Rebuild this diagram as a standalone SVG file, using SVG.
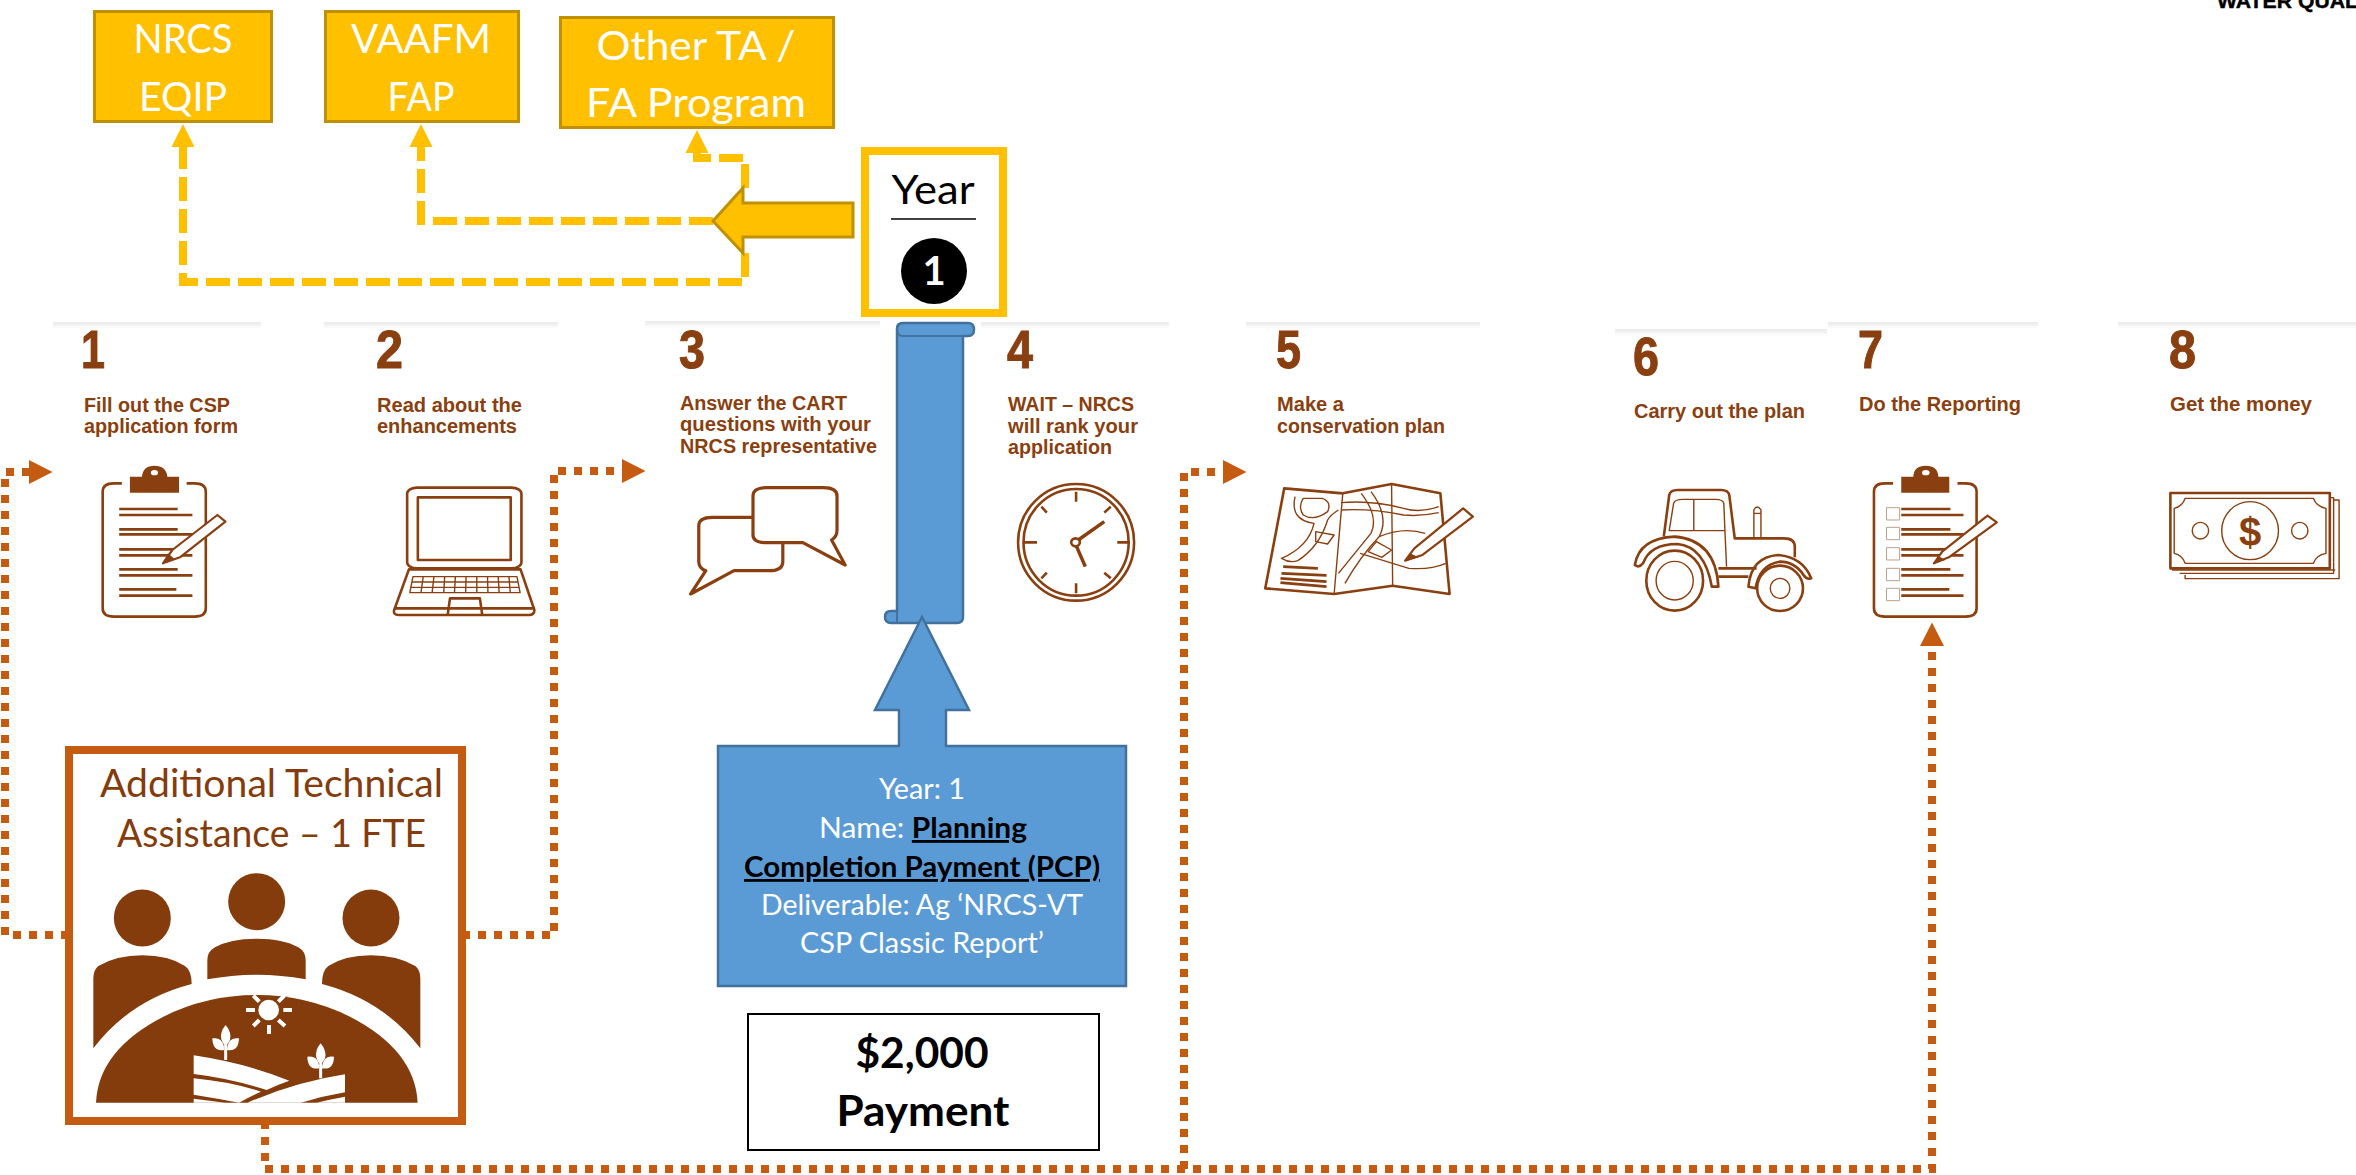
<svg xmlns="http://www.w3.org/2000/svg" xmlns:xlink="http://www.w3.org/1999/xlink" width="2356" height="1175" viewBox="0 0 2356 1175">
<style>
text{font-family:"Lato","Carlito","Open Sans",sans-serif}
.m{text-anchor:middle}
.lab{font-family:"Liberation Sans",Arial,sans-serif;font-weight:700;font-size:20px;fill:#8a3f10}
.num{font-family:"Liberation Sans",Arial,sans-serif;font-weight:700;font-size:54px;fill:#8a3f10;stroke:#8a3f10;stroke-width:1}
.y{fill:#FFC000;stroke:#BF9000;stroke-width:3}
.yt{fill:#fff;font-size:40px}
.bl{fill:#5B9BD5;stroke:#41719C;stroke-width:2.5}
.bt{fill:#fff;font-size:28px}
.bk{fill:#000;font-weight:700;text-decoration:underline}
.dy{fill:none;stroke:#FFC000;stroke-width:8;stroke-dasharray:24 8}
.do{fill:none;stroke:#C55A11;stroke-width:8;stroke-dasharray:8 8}
.i *{vector-effect:non-scaling-stroke;stroke-linejoin:round}
.o{fill:none;stroke:#8a3f10;stroke-width:2.6}
.o2{fill:none;stroke:#8a3f10;stroke-width:1.4}
.w{fill:#fff;stroke:#8a3f10;stroke-width:2.2}
.f{fill:#8a3f10}
.t{fill:#843C0C}
.h{fill:#fff}
</style>
<defs>
<linearGradient id="bar" x1="0" y1="0" x2="0" y2="1"><stop offset="0" stop-color="#e9e9e9"/><stop offset="1" stop-color="#fff"/></linearGradient>
<marker id="ay" markerUnits="userSpaceOnUse" markerWidth="23" markerHeight="24" refX="0" refY="12" orient="auto"><path d="M0 0.500L23 12L0 23.500Z" fill="#FFC000"/></marker>
<marker id="ao" markerUnits="userSpaceOnUse" markerWidth="24" markerHeight="24" refX="0" refY="12" orient="auto"><path d="M0 0L23.500 12L0 24Z" fill="#C55A11"/></marker>
<g id="plant"><path d="M557 990V945" stroke="#fff" stroke-width="9" fill="none"/><path d="M557 885Q576 908 570 930Q563 942 557 950Q548 940 544 928Q539 906 557 885ZM517 925Q551 920 553 960Q518 966 517 925ZM597 925Q563 920 561 960Q596 966 597 925Z" fill="#fff"/></g>
</defs>
<rect width="2356" height="1175" fill="#fff"/>

<g id="step-bars">
<rect x="53" y="322" width="208" height="7" fill="url(#bar)"/>
<rect x="324" y="322" width="234" height="7" fill="url(#bar)"/>
<rect x="645" y="321" width="235" height="7" fill="url(#bar)"/>
<rect x="981" y="322" width="188" height="7" fill="url(#bar)"/>
<rect x="1246" y="322" width="234" height="7" fill="url(#bar)"/>
<rect x="1615" y="329" width="212" height="7" fill="url(#bar)"/>
<rect x="1828" y="322" width="210" height="7" fill="url(#bar)"/>
<rect x="2118" y="322" width="238" height="7" fill="url(#bar)"/>
</g>

<g id="connectors">
<path class="dy" d="M745 253V282H183V147" marker-end="url(#ay)"/>
<path class="dy" d="M713 221H421V147" marker-end="url(#ay)"/>
<path class="dy" d="M745 188V158H697V153" marker-end="url(#ay)"/>
<path class="do" d="M69 935H5V472H29" marker-end="url(#ao)"/>
<path class="do" d="M462 935H554V471H622" marker-end="url(#ao)"/>
<path class="do" d="M265 1121V1169H1932V646" marker-end="url(#ao)"/>
<path class="do" d="M1184 1169V472H1223" marker-end="url(#ao)"/>
</g>

<g id="nrcs-eqip"><rect class="y" x="94.500" y="11.500" width="177" height="110"/>
<text class="yt m" x="183" y="53" textLength="99" lengthAdjust="spacingAndGlyphs">NRCS</text>
<text class="yt m" x="183" y="111" textLength="88" lengthAdjust="spacingAndGlyphs">EQIP</text></g>
<g id="vaafm-fap"><rect class="y" x="325.500" y="11.500" width="193" height="110"/>
<text class="yt m" x="421" y="53" textLength="140" lengthAdjust="spacingAndGlyphs">VAAFM</text>
<text class="yt m" x="421" y="111" textLength="67" lengthAdjust="spacingAndGlyphs">FAP</text></g>
<g id="other-ta"><rect class="y" x="560.500" y="17.500" width="273" height="110"/>
<text class="yt m" x="696" y="60" textLength="199" lengthAdjust="spacingAndGlyphs">Other TA /</text>
<text class="yt m" x="696" y="117" textLength="220" lengthAdjust="spacingAndGlyphs">FA Program</text></g>

<g id="year-arrow"><path class="y" d="M713 221L743 188V203H853V237H743V253Z"/></g>
<g id="year-box"><rect x="865" y="151" width="138" height="162" fill="#fff" stroke="#FFC000" stroke-width="8"/>
<text class="m" x="933" y="204" font-size="40" textLength="83" lengthAdjust="spacingAndGlyphs">Year</text>
<path d="M891 219H976" stroke="#000" stroke-width="1.500"/>
<circle cx="934" cy="271" r="33" fill="#000"/>
<text class="m" x="934" y="285" font-size="40" font-weight="700" fill="#fff">1</text></g>

<g id="scroll">
<path class="bl" d="M897 329Q897 323 903 323H968Q974 323 974 329.500Q974 336 968 336H963V617Q963 623 957 623H891Q885 623 885 617Q885 611 891 611H897Z"/>
<path d="M903 323Q897 323 897 329Q897 336 903 336H963M897 611V623" fill="none" stroke="#41719C" stroke-width="2"/>
</g>
<g id="payment-callout">
<path class="bl" d="M718 746H899V710H875L922 617L969 710H946V746H1126V986H718Z"/>
<text class="bt m" x="922" y="799" textLength="86" lengthAdjust="spacingAndGlyphs">Year: 1</text>
<text class="bt" x="819" y="838" textLength="208" lengthAdjust="spacingAndGlyphs">Name: <tspan class="bk">Planning</tspan></text>
<text class="bt bk m" x="922" y="877" textLength="356" lengthAdjust="spacingAndGlyphs">Completion Payment (PCP)</text>
<text class="bt m" x="922" y="915" textLength="322" lengthAdjust="spacingAndGlyphs">Deliverable: Ag ‘NRCS-VT</text>
<text class="bt m" x="922" y="953" textLength="244" lengthAdjust="spacingAndGlyphs">CSP Classic Report’</text>
</g>
<g id="payment-box"><rect x="748" y="1014" width="351" height="136" fill="#fff" stroke="#000" stroke-width="2"/>
<text class="m" x="922" y="1068" font-size="42" font-weight="700" textLength="133" lengthAdjust="spacingAndGlyphs">$2,000</text>
<text class="m" x="923" y="1126" font-size="42" font-weight="700" textLength="173" lengthAdjust="spacingAndGlyphs">Payment</text></g>

<g id="technical-assistance">
<rect x="69" y="750" width="393" height="371" fill="#fff" stroke="#C55A11" stroke-width="8"/>
<text class="t m" x="271.500" y="797" font-size="38" textLength="343" lengthAdjust="spacingAndGlyphs">Additional Technical</text>
<text class="t m" x="271.500" y="847" font-size="38" textLength="309" lengthAdjust="spacingAndGlyphs">Assistance – 1 FTE</text>
<g transform="translate(40,730) scale(.33333)">
<circle class="t" cx="307" cy="564" r="85.500"/><circle class="t" cx="650" cy="515" r="85.500"/><circle class="t" cx="993" cy="564" r="85.500"/>
<path class="t" d="M160 955V745Q160 720 175 708Q230 676 307 676Q385 676 435 708Q455 722 455 762Q270 810 160 955Z"/>
<path class="t" d="M502 748V690Q502 665 525 652Q570 626 650 626Q730 626 775 652Q797 665 797 690V748Q650 720 502 748Z"/>
<path class="t" d="M1141 955V745Q1141 720 1126 708Q1070 676 993 676Q915 676 865 708Q846 722 846 762Q1030 810 1141 955Z"/>
<path class="t" d="M168 1118Q175 960 370 860Q500 795 650 795Q800 795 930 860Q1125 960 1133 1118Z"/>
<circle class="h" cx="686" cy="840" r="31"/>
<path d="M618 840H645M730 840H756M687 885V912M640 888L658 870M735 888L715 870M640 797L658 815M733 797L715 815" stroke="#fff" stroke-width="12" fill="none"/>
<path class="h" d="M461 976Q620 1000 748 1052Q710 1065 680 1080Q570 1045 461 1032Z"/>
<path class="h" d="M461 1045Q570 1055 663 1085Q630 1100 597 1118Q530 1105 461 1094Z"/>
<path class="h" d="M461 1106Q510 1112 555 1118H461Z"/>
<path class="h" d="M915 1033Q770 1055 622 1118H783Q850 1098 915 1087Z"/>
<path class="h" d="M915 1100Q870 1108 830 1118H915Z"/>
<use xlink:href="#plant" href="#plant"/>
<use xlink:href="#plant" href="#plant" transform="translate(285,55)"/>
</g>
</g>

<g id="step-1">
<text class="num" x="81" y="368" textLength="24" lengthAdjust="spacingAndGlyphs">1</text>
<text class="lab" x="84" y="412" textLength="146" lengthAdjust="spacingAndGlyphs">Fill out the CSP</text>
<text class="lab" x="84" y="433" textLength="154" lengthAdjust="spacingAndGlyphs">application form</text>
<g class="i" transform="translate(0,320) scale(.44643,.33333)">
<path class="o" d="M273 490H255Q230 490 230 515V865Q230 890 255 890H436Q461 890 461 865V515Q461 490 436 490H418"/>
<path class="f" d="M291 518V470H318Q320 437 346 437Q372 437 375 470H401V518Z"/><ellipse class="h" cx="346" cy="458" rx="8" ry="8"/>
<path class="o" d="M267 567H398M267 585H431M267 628H398M267 643H431M267 688H398M267 706H431M267 748H398M267 766H431M267 808H395M267 827H431"/>
<path class="w" d="M386 690L487 585L505 605L403 712L365 730Z"/><path class="f" d="M376 700L392 718L365 730Z"/>
</g></g>

<g id="step-2">
<text class="num" x="376" y="368" textLength="27" lengthAdjust="spacingAndGlyphs">2</text>
<text class="lab" x="377" y="412" textLength="145" lengthAdjust="spacingAndGlyphs">Read about the</text>
<text class="lab" x="377" y="433" textLength="140" lengthAdjust="spacingAndGlyphs">enhancements</text>
<g class="i" transform="translate(0,320) scale(.44643,.33333)">
<rect class="o" x="912" y="503" width="256" height="242" rx="22" ry="18"/>
<rect class="o" x="936" y="532" width="208" height="188"/>
<path class="o" d="M916 748H1166L1197 870Q1197 885 1185 885H893Q880 885 883 870Z"/>
<path class="o" d="M883 865H1197M1003 883L1008 835H1075L1080 883"/>
<path class="o2" d="M925 770H1158L1165 818H918ZM922 786H1161M920 802H1163M948 770L943 818M972 770L968 818M996 770L994 818M1020 770L1018 818M1044 770L1043 818M1068 770L1068 818M1092 770L1093 818M1116 770L1118 818M1140 770L1143 818"/>
</g></g>

<g id="step-3">
<text class="num" x="679" y="368" textLength="26" lengthAdjust="spacingAndGlyphs">3</text>
<text class="lab" x="680" y="410" textLength="167" lengthAdjust="spacingAndGlyphs">Answer the CART</text>
<text class="lab" x="680" y="431" textLength="191" lengthAdjust="spacingAndGlyphs">questions with your</text>
<text class="lab" x="680" y="453" textLength="197" lengthAdjust="spacingAndGlyphs">NRCS representative</text>
<g class="i" transform="translate(650,320) scale(.54209,.33333)">
<path class="o" d="M215 503H320Q345 503 345 528V630Q345 650 335 660L360 735L282 668H215Q190 668 190 645V528Q190 503 215 503Z" style="stroke-width:3.200"/>
<path class="o" d="M190 592H115Q90 592 90 617V725Q90 745 103 752L75 822L155 752H220Q245 752 245 725V670" style="stroke-width:3.200"/>
</g></g>

<g id="step-4">
<text class="num" x="1007" y="368" textLength="26" lengthAdjust="spacingAndGlyphs">4</text>
<text class="lab" x="1008" y="411" textLength="126" lengthAdjust="spacingAndGlyphs">WAIT – NRCS</text>
<text class="lab" x="1008" y="433" textLength="130" lengthAdjust="spacingAndGlyphs">will rank your</text>
<text class="lab" x="1008" y="454" textLength="104" lengthAdjust="spacingAndGlyphs">application</text>
<g class="i" transform="translate(650,320) scale(.54209,.33333)">
<ellipse class="o" cx="786" cy="667" rx="107" ry="175"/><ellipse class="o" cx="786" cy="667" rx="97" ry="160"/>
<path class="o" d="M786 515V545M786 790V820M862 667H885M690 667H714M850 560L838 578M722 560L732 578M850 775L838 758M722 775L732 758"/>
<path class="o" d="M790 660L838 605M787 680L803 740" style="stroke-width:3.500"/>
<ellipse class="o" cx="785" cy="667" rx="8" ry="12"/>
</g></g>

<g id="step-5">
<text class="num" x="1276" y="368" textLength="25" lengthAdjust="spacingAndGlyphs">5</text>
<text class="lab" x="1277" y="411" textLength="67" lengthAdjust="spacingAndGlyphs">Make a</text>
<text class="lab" x="1277" y="433" textLength="168" lengthAdjust="spacingAndGlyphs">conservation plan</text>
<g class="i" transform="translate(650,320) scale(.54209,.33333)">
<path class="o" d="M1170 505L1278 520L1368 492L1458 520L1475 822L1370 797L1262 822L1135 805Z"/>
<path class="o2" d="M1278 520L1262 822M1368 492L1370 797"/>
<path class="o2" d="M1190 530Q1180 600 1225 610Q1215 680 1165 715Q1180 730 1195 722Q1235 680 1250 600Q1255 585 1270 570M1205 535H1240Q1258 545 1250 575Q1225 605 1205 585Q1195 560 1205 535ZM1228 635L1262 645L1250 672L1228 665Z"/>
<path class="o2" d="M1275 548Q1330 540 1390 565Q1420 580 1455 560M1275 570Q1330 565 1390 585Q1420 590 1455 578M1312 520Q1345 590 1330 640Q1300 700 1270 760M1330 515Q1365 590 1345 650Q1310 710 1282 790"/>
<path class="o2" d="M1345 650Q1390 620 1430 640M1340 665L1368 690L1350 712L1325 695ZM1310 700Q1370 730 1400 745Q1440 750 1468 730"/>
<path class="o" d="M1168 740L1232 745M1165 760L1248 766M1163 775L1248 785M1163 788L1248 800"/>
<path class="w" d="M1410 685L1500 565L1518 590L1425 705L1393 722Z"/><path class="f" d="M1402 700L1418 712L1393 722Z"/>
</g></g>

<g id="step-6">
<text class="num" x="1633" y="375" textLength="26" lengthAdjust="spacingAndGlyphs">6</text>
<text class="lab" x="1634" y="418" textLength="171" lengthAdjust="spacingAndGlyphs">Carry out the plan</text>
<g class="i" transform="translate(1500,320) scale(.54592,.33333)">
<path class="o" d="M300 650L310 525Q312 510 325 510H405Q418 510 420 525L430 655H520Q540 655 540 680V712"/>
<path class="o2" d="M310 632L318 550Q320 538 335 538H395Q408 538 410 550L412 632ZM355 538V632M412 632L415 740"/>
<path class="o2" d="M465 652V570Q471 552 478 570V652M465 580H478"/>
<ellipse class="o" cx="320" cy="782" rx="52" ry="90"/><ellipse class="o2" cx="320" cy="782" rx="34" ry="58"/>
<ellipse class="o" cx="513" cy="805" rx="42" ry="68"/><ellipse class="o2" cx="513" cy="805" rx="18" ry="30"/>
<path class="o" d="M400 800Q395 660 320 650Q255 655 247 735Q255 745 262 730Q275 672 325 672Q375 680 388 800Z"/>
<path class="o" d="M455 800Q460 710 510 705Q555 712 570 775Q562 780 556 765Q540 725 512 725Q475 735 468 805Z"/>
<path class="o" d="M400 745H470M400 770H455"/>
</g></g>

<g id="step-7">
<text class="num" x="1858" y="368" textLength="25" lengthAdjust="spacingAndGlyphs">7</text>
<text class="lab" x="1859" y="411" textLength="162" lengthAdjust="spacingAndGlyphs">Do the Reporting</text>
<g class="i" transform="translate(1500,320) scale(.54592,.33333)">
<path class="o" d="M720 490H705Q685 490 685 515V865Q685 890 705 890H853Q873 890 873 865V515Q873 490 853 490H838"/>
<path class="f" d="M735 518V470H757Q758 437 780 437Q802 437 803 470H823V518Z"/><ellipse class="h" cx="780" cy="458" rx="7" ry="8"/>
<path class="o" d="M735 567H825M735 585H849M735 628H825M735 643H849M735 688H825M735 706H849M735 748H825M735 766H849M735 808H823M735 827H849"/>
<g fill="#fff" stroke="#bda08e" stroke-width="1"><rect x="708" y="563" width="24" height="37"/><rect x="708" y="622" width="24" height="37"/><rect x="708" y="683" width="24" height="37"/><rect x="708" y="745" width="24" height="37"/><rect x="708" y="805" width="24" height="37"/></g>
<path class="w" d="M810 695L893 587L910 607L822 712L795 730Z"/><path class="f" d="M803 708L816 720L795 730Z"/>
</g></g>

<g id="step-8">
<text class="num" x="2169" y="368" textLength="27" lengthAdjust="spacingAndGlyphs">8</text>
<text class="lab" x="2170" y="411" textLength="142" lengthAdjust="spacingAndGlyphs">Get the money</text>
<g class="i" transform="translate(1500,320) scale(.54592,.33333)">
<path class="o2" d="M1520 533H1527V760H1245M1527 540H1537V776H1255V765M1232 745V750H1530" stroke="#b08a70"/>
<rect class="o" x="1228" y="519" width="292" height="226" fill="#fff" style="fill:#fff"/>
<path class="o2" d="M1255 535H1490Q1495 560 1513 565V700Q1495 705 1490 730H1255Q1250 705 1235 700V565Q1250 560 1255 535Z"/>
<ellipse class="o2" cx="1374" cy="632" rx="52" ry="87"/><ellipse class="o2" cx="1283" cy="632" rx="15" ry="25"/><ellipse class="o2" cx="1465" cy="632" rx="15" ry="25"/>
</g>
<text x="2250" y="546" class="m" font-size="40" style="font-family:'Liberation Sans',Arial,sans-serif;font-weight:700;fill:#8a3f10">$</text>
</g>

<g id="header"><text x="2217" y="8" font-size="20" font-weight="700" fill="#000" stroke="#000" stroke-width=".4" style="font-family:'Liberation Sans',Arial,sans-serif" textLength="141" lengthAdjust="spacingAndGlyphs">WATER QUAL</text></g>
</svg>
